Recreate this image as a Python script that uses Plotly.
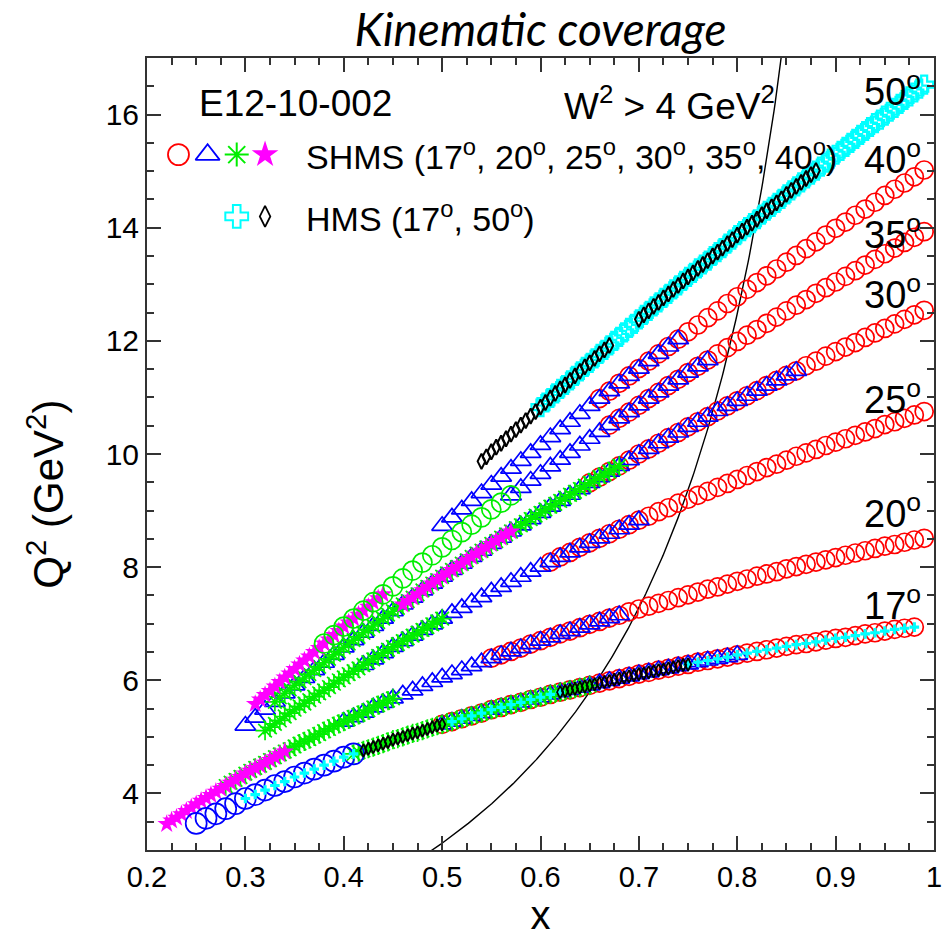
import numpy as np
import plotly.graph_objects as go

# Bjorken-x grid shared by every kinematic track (0.22 ... 0.99)
X_GRID = [0.22, 0.23, 0.24, 0.25, 0.26, 0.27, 0.28, 0.29, 0.30, 0.31, 0.32, 0.33, 0.34,
          0.35, 0.36, 0.37, 0.38, 0.39, 0.40, 0.41, 0.42, 0.43, 0.44, 0.45, 0.46, 0.47,
          0.48, 0.49, 0.50, 0.51, 0.52, 0.53, 0.54, 0.55, 0.56, 0.57, 0.58, 0.59, 0.60,
          0.61, 0.62, 0.63, 0.64, 0.65, 0.66, 0.67, 0.68, 0.69, 0.70, 0.71, 0.72, 0.73,
          0.74, 0.75, 0.76, 0.77, 0.78, 0.79, 0.80, 0.81, 0.82, 0.83, 0.84, 0.85, 0.86,
          0.87, 0.88, 0.89, 0.90, 0.91, 0.92, 0.93, 0.94, 0.95, 0.96, 0.97, 0.98, 0.99]

# Q^2 (GeV^2) along each spectrometer-angle track; each list covers the last
# len(list) entries of X_GRID
Q2_17 = [3.47, 3.56, 3.64, 3.73, 3.82, 3.91, 3.98, 4.06, 4.14, 4.21, 4.29, 4.36, 4.43,
         4.50, 4.57, 4.64, 4.70, 4.76, 4.82, 4.88, 4.95, 5.00, 5.06, 5.11, 5.17, 5.22,
         5.27, 5.32, 5.37, 5.42, 5.48, 5.52, 5.57, 5.61, 5.66, 5.70, 5.75, 5.79, 5.83,
         5.87, 5.91, 5.95, 5.99, 6.03, 6.07, 6.11, 6.14, 6.18, 6.21, 6.25, 6.28, 6.32,
         6.35, 6.38, 6.41, 6.45, 6.48, 6.51, 6.54, 6.57, 6.60, 6.63, 6.65, 6.68, 6.71,
         6.74, 6.76, 6.79, 6.82, 6.84, 6.87, 6.90, 6.92, 6.94, 6.97]
Q2_20 = [3.46, 3.57, 3.69, 3.81, 3.92, 4.03, 4.13, 4.24, 4.35, 4.45, 4.54, 4.64, 4.74,
         4.83, 4.92, 5.01, 5.10, 5.19, 5.27, 5.35, 5.43, 5.52, 5.60, 5.68, 5.75, 5.82,
         5.90, 5.97, 6.05, 6.11, 6.18, 6.25, 6.32, 6.39, 6.45, 6.51, 6.57, 6.64, 6.70,
         6.76, 6.82, 6.87, 6.93, 6.99, 7.04, 7.10, 7.15, 7.21, 7.26, 7.31, 7.36, 7.41,
         7.46, 7.51, 7.56, 7.61, 7.65, 7.70, 7.75, 7.79, 7.84, 7.88, 7.92, 7.97, 8.01,
         8.05, 8.09, 8.13, 8.17, 8.21, 8.25, 8.29, 8.33, 8.37, 8.40, 8.44, 8.48, 8.51]
Q2_25 = [4.99, 5.11, 5.23, 5.36, 5.48, 5.59, 5.71, 5.82, 5.94, 6.05, 6.16, 6.27, 6.37,
         6.48, 6.59, 6.69, 6.79, 6.89, 6.99, 7.09, 7.19, 7.28, 7.38, 7.47, 7.57, 7.65,
         7.74, 7.83, 7.92, 8.01, 8.09, 8.18, 8.26, 8.35, 8.43, 8.51, 8.59, 8.67, 8.75,
         8.83, 8.90, 8.98, 9.05, 9.13, 9.20, 9.27, 9.34, 9.41, 9.48, 9.55, 9.62, 9.69,
         9.76, 9.82, 9.89, 9.96, 10.02, 10.08, 10.15, 10.21, 10.27, 10.33, 10.39, 10.45,
         10.52, 10.57, 10.63, 10.69, 10.75]
Q2_30 = [5.20, 5.34, 5.48, 5.62, 5.77, 5.91, 6.04, 6.18, 6.31, 6.45, 6.58, 6.71, 6.84,
         6.96, 7.09, 7.22, 7.34, 7.46, 7.59, 7.71, 7.83, 7.95, 8.06, 8.18, 8.29, 8.41,
         8.52, 8.63, 8.74, 8.85, 8.96, 9.07, 9.17, 9.28, 9.38, 9.49, 9.59, 9.69, 9.79,
         9.89, 10.00, 10.09, 10.19, 10.29, 10.38, 10.48, 10.57, 10.66, 10.76, 10.85,
         10.94, 11.03, 11.12, 11.21, 11.30, 11.39, 11.47, 11.56, 11.64, 11.73, 11.81,
         11.89, 11.97, 12.06, 12.14, 12.22, 12.30, 12.38, 12.46, 12.54]
Q2_35 = [5.43, 5.58, 5.74, 5.89, 6.05, 6.20, 6.35, 6.50, 6.65, 6.80, 6.95, 7.09, 7.23,
         7.38, 7.52, 7.66, 7.80, 7.94, 8.08, 8.21, 8.35, 8.48, 8.62, 8.75, 8.88, 9.02,
         9.14, 9.27, 9.40, 9.53, 9.65, 9.78, 9.90, 10.02, 10.15, 10.27, 10.39, 10.51,
         10.63, 10.74, 10.86, 10.98, 11.09, 11.21, 11.32, 11.44, 11.55, 11.66, 11.77,
         11.88, 11.99, 12.10, 12.20, 12.31, 12.42, 12.53, 12.63, 12.73, 12.84, 12.94,
         13.04, 13.14, 13.24, 13.34, 13.44, 13.54, 13.64, 13.74, 13.83, 13.93]
Q2_40 = [8.73, 8.88, 9.02, 9.17, 9.31, 9.46, 9.60, 9.74, 9.88, 10.02, 10.16, 10.30,
         10.44, 10.57, 10.71, 10.85, 10.98, 11.11, 11.25, 11.38, 11.51, 11.64, 11.77,
         11.90, 12.03, 12.16, 12.28, 12.41, 12.53, 12.66, 12.78, 12.91, 13.03, 13.15,
         13.27, 13.39, 13.51, 13.63, 13.75, 13.87, 13.99, 14.10, 14.22, 14.33, 14.45,
         14.57, 14.68, 14.79, 14.90, 15.02]
Q2_50 = [9.87, 10.04, 10.19, 10.35, 10.51, 10.67, 10.83, 10.99, 11.15, 11.30, 11.46,
         11.61, 11.77, 11.92, 12.07, 12.23, 12.38, 12.53, 12.68, 12.83, 12.98, 13.13,
         13.28, 13.42, 13.57, 13.72, 13.87, 14.01, 14.15, 14.30, 14.44, 14.59, 14.73,
         14.87, 15.01, 15.15, 15.29, 15.43, 15.57, 15.71, 15.85, 15.98, 16.12, 16.26,
         16.39, 16.53]

# Finer sampling (x = 0.215, 0.225, ...) where the settings are densely binned
X_HALF = [0.215, 0.225, 0.235, 0.245, 0.255, 0.265, 0.275, 0.285, 0.295, 0.305, 0.315,
          0.325, 0.335, 0.345, 0.355, 0.365, 0.375, 0.385, 0.395, 0.405, 0.415, 0.425,
          0.435, 0.445, 0.455, 0.465, 0.475, 0.485, 0.495, 0.505, 0.515, 0.525, 0.535,
          0.545, 0.555, 0.565, 0.575, 0.585, 0.595, 0.605, 0.615, 0.625, 0.635, 0.645,
          0.655, 0.665, 0.675, 0.685, 0.695, 0.705, 0.715, 0.725, 0.735, 0.745, 0.755,
          0.765, 0.775, 0.785, 0.795, 0.805, 0.815, 0.825, 0.835, 0.845, 0.855, 0.865,
          0.875, 0.885, 0.895, 0.905, 0.915, 0.925, 0.935, 0.945, 0.955, 0.965, 0.975,
          0.985]
H2_17 = [4.67, 4.73, 4.79, 4.85, 4.91, 4.97, 5.03, 5.08, 5.14, 5.20, 5.25, 5.30, 5.35,
         5.40, 5.45, 5.50, 5.54, 5.59, 5.64, 5.68, 5.73, 5.77, 5.81, 5.85, 5.89, 5.93,
         5.97, 6.01, 6.05, 6.09, 6.12, 6.16, 6.19, 6.23, 6.27]
H2_20 = [3.40, 3.52, 3.63, 3.75, 3.87, 3.97, 4.08, 4.19, 4.29, 4.40, 4.49, 4.59, 4.69,
         4.78, 4.88, 4.96, 5.05, 5.14, 5.23, 5.31, 5.39, 5.47, 5.56, 5.64, 5.71]
H2_25 = [5.05, 5.17, 5.29, 5.42, 5.54, 5.65, 5.77, 5.88, 6.00, 6.11, 6.21, 6.32, 6.43,
         6.54, 6.64, 6.74, 6.84, 6.94, 7.04, 7.14]
H2_30 = [5.55, 5.70, 5.84, 5.98, 6.11, 6.24, 6.38, 6.51, 6.65, 6.77, 6.90, 7.03, 7.16,
         7.28, 7.40, 7.52, 7.65, 7.77, 7.89, 8.00, 8.12, 8.24, 8.35, 8.46, 8.58, 8.69,
         8.80, 8.91, 9.02, 9.12, 9.23, 9.33, 9.44, 9.54, 9.64, 9.74, 9.84]
H2_35 = [5.50, 5.66, 5.81, 5.97, 6.12, 6.28, 6.42, 6.57, 6.72, 6.87, 7.02, 7.16, 7.30,
         7.45, 7.59]
H2_50 = [9.79, 9.95, 10.12, 10.27, 10.43, 10.59, 10.75, 10.91, 11.07, 11.22, 11.38,
         11.54, 11.69, 11.84, 12.00, 12.15, 12.30, 12.46, 12.61, 12.76, 12.91, 13.06,
         13.20, 13.35, 13.50, 13.64, 13.79, 13.94, 14.08, 14.23, 14.37, 14.51, 14.66,
         14.80, 14.94, 15.08, 15.22, 15.36, 15.50, 15.64, 15.78, 15.91, 16.05, 16.19,
         16.32, 16.46]

TRACKS = {17: Q2_17, 20: Q2_20, 25: Q2_25, 30: Q2_30, 35: Q2_35, 40: Q2_40, 50: Q2_50}
HALF_TRACKS = {17: (0.405, H2_17), 20: (0.215, H2_20), 25: (0.315, H2_25),
               30: (0.325, H2_30), 35: (0.305, H2_35), 50: (0.535, H2_50)}

# Coverage of each setting: (angle in degrees, x from, x to)
SHMS_CIRCLES = [(17, 0.50, 0.98), (20, 0.55, 0.99), (25, 0.61, 0.99),
                (30, 0.65, 0.99), (35, 0.67, 0.99), (40, 0.66, 0.99)]
SHMS_TRIANGLES = [(17, 0.50, 0.80), (20, 0.40, 0.68), (25, 0.42, 0.70),
                  (30, 0.30, 0.86), (35, 0.57, 0.77), (40, 0.50, 0.74)]
SHMS_ASTERISKS = [(17, 0.41, 0.65), (20, 0.28, 0.45), (25, 0.32, 0.50), (30, 0.33, 0.68)]
SHMS_STARS = [(20, 0.22, 0.34), (35, 0.31, 0.44), (30, 0.46, 0.57)]
SHMS_GREEN_CIRCLES = [(35, 0.38, 0.57)]
SHMS_BLUE_CIRCLES = [(17, 0.25, 0.41)]
HMS_CROSSES_17 = [(17, 0.30, 0.41), (17, 0.51, 0.62), (17, 0.75, 0.98)]
HMS_CROSSES_50 = [(50, 0.60, 0.99)]
HMS_DIAMONDS_17 = [(17, 0.42, 0.50), (17, 0.62, 0.75)]
HMS_DIAMONDS_50 = [(50, 0.54, 0.67), (50, 0.70, 0.88)]

ANGLE_LABELS = ["50", "40", "35", "30", "25", "20", "17"]
ANGLE_LABEL_Q2 = [16.45, 15.25, 13.92, 12.86, 11.0, 9.0, 7.37]

# Elastic-threshold cut drawn as a curve: W^2 = M^2 + Q^2 (1/x - 1)
W2_CUT = 4.0
M_PROTON = 0.938

X_TICKS = [0.2, 0.3, 0.4, 0.5, 0.6, 0.7, 0.8, 0.9, 1.0]
X_TICK_TEXT = ["0.2", "0.3", "0.4", "0.5", "0.6", "0.7", "0.8", "0.9", "1"]
Y_TICKS = [4, 6, 8, 10, 12, 14, 16]

RED = "#ff0000"
BLUE = "#0000ff"
GREEN = "#00ee00"
MAGENTA = "#ff00ff"
CYAN = "#00ffff"
BLACK = "#000000"
AXIS = "#333333"
FONT = "Liberation Sans"


def in_range(x, lo, hi):
    return lo - 1e-6 <= x <= hi + 1e-6


def collect(segments, dense=False):
    pts = []
    for ang, lo, hi in segments:
        q = TRACKS[ang]
        grid = X_GRID[len(X_GRID) - len(q):]
        pts += [(x, y) for x, y in zip(grid, q) if in_range(x, lo, hi)]
        if dense and ang in HALF_TRACKS:
            start, hq = HALF_TRACKS[ang]
            i0 = X_HALF.index(start)
            pts += [(x, y) for x, y in zip(X_HALF[i0:i0 + len(hq)], hq)
                    if in_range(x, lo, hi)]
    pts.sort()
    return [p[0] for p in pts], [p[1] for p in pts]


def marker_trace(segments, symbol, color, size, lw=1.6, dense=False):
    xs, ys = collect(segments, dense)
    return go.Scatter(x=xs, y=ys, mode="markers", hoverinfo="skip",
                      marker=dict(symbol=symbol, color=color, size=size,
                                  line=dict(width=lw, color=color)))


fig = go.Figure()

# W^2 = 4 GeV^2 boundary
xw = np.linspace(0.40, 0.90, 400)
q2w = (W2_CUT - M_PROTON ** 2) * xw / (1.0 - xw)
fig.add_trace(go.Scatter(x=xw, y=q2w, mode="lines", line=dict(color=BLACK, width=1.4),
                         hoverinfo="skip"))

fig.add_trace(marker_trace(SHMS_CIRCLES, "circle-open", RED, 18, lw=1.7))
fig.add_trace(marker_trace(SHMS_TRIANGLES, "triangle-up-open", BLUE, 18, lw=1.7))
fig.add_trace(marker_trace(SHMS_ASTERISKS, "asterisk-open", GREEN, 16, lw=1.7, dense=True))
fig.add_trace(marker_trace(SHMS_STARS, "star", MAGENTA, 14, lw=0, dense=True))
fig.add_trace(marker_trace(SHMS_GREEN_CIRCLES, "circle-open", GREEN, 19, lw=1.7))
fig.add_trace(marker_trace(SHMS_BLUE_CIRCLES, "circle-open", BLUE, 21, lw=1.7))
fig.add_trace(marker_trace(HMS_CROSSES_17, "cross", CYAN, 8, lw=0))
fig.add_trace(marker_trace(HMS_CROSSES_50, "cross-open", CYAN, 15, lw=2.2, dense=True))
fig.add_trace(marker_trace(HMS_DIAMONDS_17, "diamond-tall-open", BLACK, 9, lw=1.8, dense=True))
fig.add_trace(marker_trace(HMS_DIAMONDS_50, "diamond-tall-open", BLACK, 11, lw=2.0, dense=True))

# Key symbols, placed in a normalised overlay frame
key = [
    (0.040, 0.878, "circle-open", RED, 21, 1.8),
    (0.077, 0.878, "triangle-up-open", BLUE, 21, 1.8),
    (0.114, 0.878, "asterisk-open", GREEN, 20, 2.0),
    (0.150, 0.878, "star", MAGENTA, 20, 0),
    (0.114, 0.800, "cross-open", CYAN, 19, 2.0),
    (0.150, 0.800, "diamond-tall-open", BLACK, 15, 1.8),
]
for kx, ky, sym, col, sz, lw in key:
    fig.add_trace(go.Scatter(x=[kx], y=[ky], xaxis="x2", yaxis="y2", mode="markers",
                             hoverinfo="skip",
                             marker=dict(symbol=sym, color=col, size=sz,
                                         line=dict(width=lw, color=col))))

deg = "<sup>o</sup>"
annotations = [
    dict(x=0.063, y=0.943, xref="paper", yref="paper", text="E12-10-002",
         xanchor="left", yanchor="middle", showarrow=False,
         font=dict(family=FONT, size=37, color=BLACK)),
    dict(x=0.527, y=0.943, xref="paper", yref="paper",
         text="W<sup>2</sup> > 4 GeV<sup>2</sup>",
         xanchor="left", yanchor="middle", showarrow=False,
         font=dict(family=FONT, size=37, color=BLACK)),
    dict(x=0.200, y=0.878, xref="paper", yref="paper",
         text="SHMS (17" + deg + ", 20" + deg + ", 25" + deg + ", 30" + deg + ", 35" + deg
              + ", 40" + deg + ")",
         xanchor="left", yanchor="middle", showarrow=False,
         font=dict(family=FONT, size=34, color=BLACK)),
    dict(x=0.200, y=0.800, xref="paper", yref="paper",
         text="HMS (17" + deg + ", 50" + deg + ")",
         xanchor="left", yanchor="middle", showarrow=False,
         font=dict(family=FONT, size=34, color=BLACK)),
    dict(x=-0.128, y=0.449, xref="paper", yref="paper",
         text="Q<sup>2</sup> (GeV<sup>2</sup>)", textangle=-90,
         xanchor="center", yanchor="middle", showarrow=False,
         font=dict(family=FONT, size=42, color=BLACK)),
]
for lab, q2 in zip(ANGLE_LABELS, ANGLE_LABEL_Q2):
    annotations.append(dict(x=0.958, y=q2, xref="x", yref="y", text=lab + deg,
                            xanchor="center", yanchor="middle", showarrow=False,
                            font=dict(family=FONT, size=38, color=BLACK)))

tick_common = dict(ticks="inside", tickwidth=1.5, tickcolor=AXIS, showline=True,
                   linewidth=2, linecolor=AXIS, mirror="ticks", showgrid=False,
                   zeroline=False, ticklabeloverflow="allow")

fig.update_layout(
    width=944, height=937,
    margin=dict(l=147, r=2, t=58, b=87),
    plot_bgcolor="white", paper_bgcolor="white",
    showlegend=False,
    title=dict(text="<i>Kinematic coverage</i>", x=0.5, xref="paper", xanchor="center",
               y=1 - 30 / 937, yref="container", yanchor="middle",
               font=dict(family="Lato", size=46, color=BLACK)),
    xaxis=dict(range=[0.2, 1.0], tickmode="array", tickvals=X_TICKS, ticktext=X_TICK_TEXT,
               ticklen=14,
               minor=dict(tick0=0.2, dtick=0.025, ticks="inside", ticklen=7, tickwidth=1.5,
                          tickcolor=AXIS, showgrid=False),
               tickfont=dict(family=FONT, size=29, color=BLACK),
               title=dict(text="x", font=dict(family=FONT, size=40, color=BLACK),
                          standoff=10),
               **tick_common),
    yaxis=dict(range=[3, 17], tickmode="array", tickvals=Y_TICKS, ticklen=14,
               minor=dict(tick0=3, dtick=0.5, ticks="inside", ticklen=7, tickwidth=1.5,
                          tickcolor=AXIS, showgrid=False),
               tickfont=dict(family=FONT, size=30, color=BLACK),
               **tick_common),
    xaxis2=dict(overlaying="x", range=[0, 1], visible=False),
    yaxis2=dict(overlaying="y", range=[0, 1], visible=False),
    annotations=annotations,
)

fig.write_html("out.html")
